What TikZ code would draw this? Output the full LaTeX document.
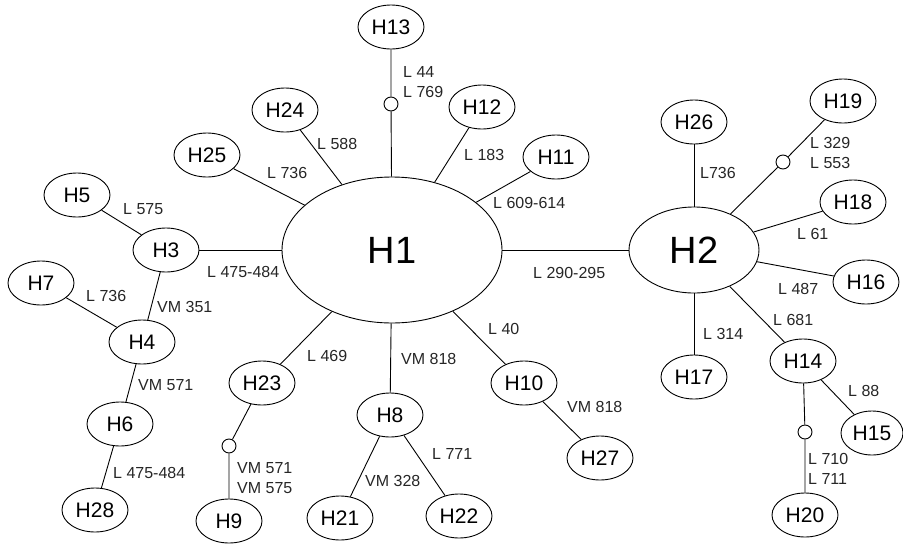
\documentclass[tikz,border=0pt]{standalone}
\usepackage{fontspec}
\setmainfont{Liberation Sans}
\usepackage{tikz}
\usetikzlibrary{shapes.geometric}
\tikzset{
  hapnode/.style={ellipse,draw=black,line width=0.9pt,minimum width=66pt,
    minimum height=44pt,inner sep=0pt,font=\fontsize{21}{25}\selectfont},
  hapmain/.style={hapnode,font=\fontsize{38}{42}\selectfont},
  hapmiss/.style={circle,draw=black,line width=0.9pt,minimum size=14pt,inner sep=0pt},
  haplink/.style={line width=0.9pt},
  hapnote/.style={anchor=west,inner sep=0pt,align=left,
    font=\fontsize{16}{20}\selectfont,text=black!85}
}

\begin{document}
\begin{tikzpicture}[x=1pt,y=-1pt]
  \useasboundingbox (0,0) rectangle (903,544);
  % central haplotypes
  \node[hapmain,minimum width=220pt,minimum height=146pt] (H1) at (392,250) {H1};
  \node[hapmain,minimum width=130pt,minimum height=86pt] (H2) at (694,250) {H2};
  % around H1
  \node[hapnode] (H13) at (391,27) {H13};
  \node[hapnode] (H24) at (285,110) {H24};
  \node[hapnode] (H12) at (482,107) {H12};
  \node[hapnode] (H25) at (207,155) {H25};
  \node[hapnode] (H11) at (556,157) {H11};
  \node[hapnode] (H5) at (77,195) {H5};
  \node[hapnode] (H3) at (166,250) {H3};
  \node[hapnode] (H7) at (41,283) {H7};
  \node[hapnode] (H4) at (142,342) {H4};
  \node[hapnode] (H6) at (120,424) {H6};
  \node[hapnode] (H28) at (95,510) {H28};
  \node[hapnode] (H23) at (262,383) {H23};
  \node[hapnode] (H9) at (229,521) {H9};
  \node[hapnode] (H8) at (390,415) {H8};
  \node[hapnode] (H21) at (340,518) {H21};
  \node[hapnode] (H22) at (459,516) {H22};
  \node[hapnode] (H10) at (524,383) {H10};
  \node[hapnode] (H27) at (600,458) {H27};
  % around H2
  \node[hapnode] (H26) at (694,122) {H26};
  \node[hapnode] (H19) at (843,101) {H19};
  \node[hapnode] (H18) at (853,202) {H18};
  \node[hapnode] (H16) at (866,282) {H16};
  \node[hapnode] (H17) at (694,377) {H17};
  \node[hapnode] (H14) at (803,361) {H14};
  \node[hapnode,minimum width=62pt] (H15) at (872,433) {H15};
  \node[hapnode] (H20) at (805,515) {H20};
  % missing intermediates
  \node[hapmiss] (m13) at (391,104) {};
  \node[hapmiss] (m19) at (783,162) {};
  \node[hapmiss] (m9) at (229,446) {};
  \node[hapmiss] (m20) at (805,432) {};

  \draw[haplink] (H1) -- (m13) -- (H13);
  \draw[haplink] (H1) -- (H24);
  \draw[haplink] (H1) -- (H12);
  \draw[haplink] (H1) -- (H25);
  \draw[haplink] (H1) -- (H11);
  \draw[haplink] (H1) -- (H3);
  \draw[haplink] (H3) -- (H5);
  \draw[haplink] (H3) -- (H4);
  \draw[haplink] (H4) -- (H7);
  \draw[haplink] (H4) -- (H6);
  \draw[haplink] (H6) -- (H28);
  \draw[haplink] (H1) -- (H23);
  \draw[haplink] (H23) -- (m9) -- (H9);
  \draw[haplink] (H1) -- (H8);
  \draw[haplink] (H8) -- (H21);
  \draw[haplink] (H8) -- (H22);
  \draw[haplink] (H1) -- (H10);
  \draw[haplink] (H10) -- (H27);
  \draw[haplink] (H1) -- (H2);
  \draw[haplink] (H2) -- (H26);
  \draw[haplink] (H2) -- (m19) -- (H19);
  \draw[haplink] (H2) -- (H18);
  \draw[haplink] (H2) -- (H16);
  \draw[haplink] (H2) -- (H17);
  \draw[haplink] (H2) -- (H14);
  \draw[haplink] (H14) -- (H15);
  \draw[haplink] (H14) -- (m20) -- (H20);

  % mutation labels
  \node[hapnote] (n13) at (403,82) {L 44\\L 769};
  \node[hapnote] (n24) at (317,144) {L 588};
  \node[hapnote] (n12) at (464,155) {L 183};
  \node[hapnote] (n11) at (493,203) {L 609-614};
  \node[hapnote] (n25) at (267,173) {L 736};
  \node[hapnote] (n5) at (123,209) {L 575};
  \node[hapnote] (n3) at (207,272) {L 475-484};
  \node[hapnote] (n2) at (533,273) {L 290-295};
  \node[hapnote] (n7) at (86,296) {L 736};
  \node[hapnote] (n4) at (157,307) {VM 351};
  \node[hapnote] (n6) at (138,385) {VM 571};
  \node[hapnote] (n28) at (113,473) {L 475-484};
  \node[hapnote] (n23) at (307,356) {L 469};
  \node[hapnote] (n9) at (237,478) {VM 571\\VM 575};
  \node[hapnote] (n8) at (401,359) {VM 818};
  \node[hapnote] (n21) at (365,481) {VM 328};
  \node[hapnote] (n22) at (432,454) {L 771};
  \node[hapnote] (n10) at (488,329) {L 40};
  \node[hapnote] (n27) at (567,407) {VM 818};
  \node[hapnote] (n26) at (700,173) {L736};
  \node[hapnote] (n19) at (810,153) {L 329\\L 553};
  \node[hapnote] (n18) at (797,234) {L 61};
  \node[hapnote] (n16) at (778,289) {L 487};
  \node[hapnote] (n17) at (703,334) {L 314};
  \node[hapnote] (n14) at (773,320) {L 681};
  \node[hapnote] (n15) at (848,391) {L 88};
  \node[hapnote] (n20) at (808,469) {L 710\\L 711};
\end{tikzpicture}
\end{document}
